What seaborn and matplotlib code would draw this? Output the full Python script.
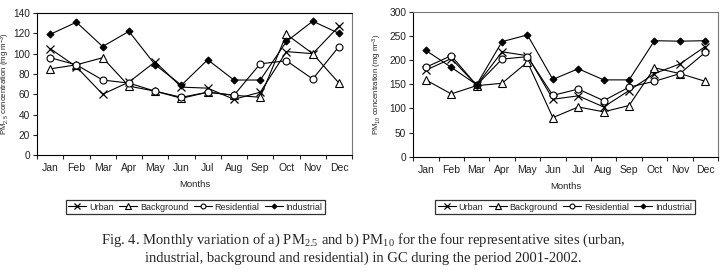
import numpy as np
import pandas as pd
import seaborn as sns
import matplotlib.pyplot as plt
from matplotlib.lines import Line2D

sns.set_style("ticks")
plt.rcParams['font.family'] = ['Liberation Sans', 'DejaVu Sans']
plt.rcParams['mathtext.default'] = 'regular'

# dados
meses = ["Jan", "Feb", "Mar", "Apr", "May", "Jun", "Jul", "Aug", "Sep", "Oct", "Nov", "Dec"]
sitios = ["Urban", "Background", "Residential", "Industrial"]

pm25_urban = [105, 87, 60, 72, 92, 67, 66, 55, 62, 102, 100, 127]
pm25_background = [85, 89, 96, 68, 63, 56, 62, 59, 57, 119, 100, 71]
pm25_residential = [96, 89, 74, 71, 63, 57, 62, 59, 90, 93, 75, 107]
pm25_industrial = [119, 131, 107, 122, 89, 69, 94, 74, 74, 112, 132, 120]

pm10_urban = [179, 203, 148, 217, 209, 119, 126, 103, 137, 172, 192, 228]
pm10_background = [159, 130, 147, 152, 196, 81, 103, 93, 106, 184, 172, 156]
pm10_residential = [185, 209, 148, 202, 207, 127, 140, 116, 144, 156, 172, 216]
pm10_industrial = [220, 185, 149, 238, 252, 160, 182, 159, 159, 240, 239, 240]

estilos = {
    "Urban": dict(marker="x", markersize=6, markerfacecolor="black", markeredgewidth=0.9),
    "Background": dict(marker="^", markersize=5.5, markerfacecolor="white", markeredgewidth=0.8),
    "Residential": dict(marker="o", markersize=5, markerfacecolor="white", markeredgewidth=0.8),
    "Industrial": dict(marker="D", markersize=3.5, markerfacecolor="black", markeredgewidth=0.8),
}

pm25 = pd.DataFrame({"Month": meses, "Urban": pm25_urban, "Background": pm25_background,
                     "Residential": pm25_residential, "Industrial": pm25_industrial})
pm10 = pd.DataFrame({"Month": meses, "Urban": pm10_urban, "Background": pm10_background,
                     "Residential": pm10_residential, "Industrial": pm10_industrial})

fig = plt.figure(figsize=(7.26, 2.78), dpi=100)
ax1 = fig.add_axes([0.051, 0.442, 0.434, 0.511])
ax2 = fig.add_axes([0.569, 0.436, 0.420, 0.522])


def desenhar(ax, df, ymax, ystep, ylabel, xlab):
    for s in sitios:
        sns.lineplot(data=df, x="Month", y=s, ax=ax, color="black", linewidth=0.8,
                     markeredgecolor="black", sort=False, **estilos[s])
    ax.set_xlim(-0.5, 11.5)
    ax.set_ylim(0, ymax)
    ax.set_yticks(np.arange(0, ymax + 1, ystep))
    ax.set_xticks(range(12))
    ax.set_xticklabels(meses)
    ax.set_xticks(np.arange(-0.5, 12, 1), minor=True)
    ax.tick_params(axis="x", which="major", length=0, labelsize=7.5, pad=6, colors="#222222")
    ax.tick_params(axis="x", which="minor", length=3, direction="out", width=0.8)
    ax.tick_params(axis="y", length=3, direction="out", width=0.8, labelsize=7.3, pad=2, colors="#222222")
    ax.set_xlabel("Months", fontsize=6.8, labelpad=5, color="#222222")
    ax.set_ylabel(ylabel, fontsize=5.6, color="#222222")
    ax.yaxis.set_label_coords(xlab, 0.5)
    for sp in ax.spines.values():
        sp.set_visible(True)
        sp.set_linewidth(0.8)
        sp.set_color("black")
    ax.spines["right"].set_color("#777777")


desenhar(ax1, pm25, 140, 20, "PM$_{2.5}$ concentration (mg m$^{-3}$)", -0.079)
desenhar(ax2, pm10, 300, 50, "PM$_{10}$ concentration (mg m$^{-3}$)", -0.095)
ax2.spines["top"].set_color("#777777")

handles = [Line2D([], [], color="black", linewidth=0.8, markeredgecolor="black", **estilos[s]) for s in sitios]
for cx in [0.269, 0.778]:
    fig.legend(handles, sitios, loc="center", bbox_to_anchor=(cx, 0.255), ncol=4,
               fontsize=6.5, frameon=True, fancybox=False, edgecolor="black",
               handlelength=2.0, handletextpad=0.3, columnspacing=0.6,
               borderpad=0.3, markerscale=0.7).get_frame().set_linewidth(0.9)

fig.text(0.5, 0.135, "Fig. 4. Monthly variation of a) PM$_{2.5}$ and b) PM$_{10}$ for the four representative sites (urban,",
         ha="center", va="center", fontsize=10.5, family=["Liberation Serif"])
fig.text(0.5, 0.07, "industrial, background and residential) in GC during the period 2001-2002.",
         ha="center", va="center", fontsize=10.5, family=["Liberation Serif"])

fig.savefig("out.png", dpi=100)
